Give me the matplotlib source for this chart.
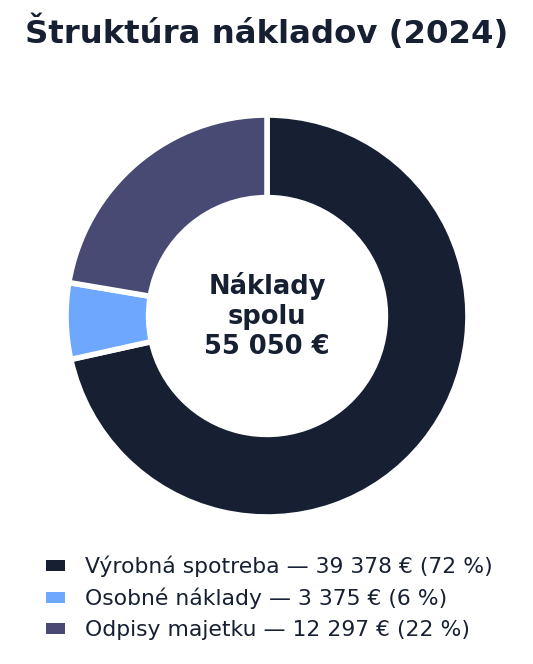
import matplotlib
matplotlib.use("Agg")
import matplotlib.pyplot as plt
from matplotlib.patches import Patch

categories = ["Výrobná spotreba", "Osobné náklady", "Odpisy majetku"]
values = [39378, 3375, 12297]
percents = [72, 6, 22]
colors = ["#172033", "#6ea8fe", "#484a73"]
title = "Štruktúra nákladov (2024)"
center_text = "Náklady\nspolu\n55 050 €"

def fmt(v):
    return f"{v:,}".replace(",", " ")

labels = [f"{c} — {fmt(v)} € ({p} %)" for c, v, p in zip(categories, values, percents)]

fig = plt.figure(figsize=(5.33, 6.64), dpi=100)
fig.patch.set_facecolor("white")
ax = fig.add_axes([0.1276, 0.2244, 0.7467, 0.5994])
wedges, _ = ax.pie(values, colors=colors, startangle=90, counterclock=False,
                   radius=1.01, wedgeprops=dict(width=0.415, edgecolor="white", linewidth=4))
ax.set_xlim(-1, 1)
ax.set_ylim(-1, 1)
ax.set_aspect("equal")
ax.text(0, 0, center_text, ha="center", va="center", fontsize=18.5, fontweight="bold",
        color="#172033", linespacing=1.2)

fig.text(0.5, 0.951, title, ha="center", va="center", fontsize=23.3, fontweight="bold", color="#172033")

handles = [Patch(facecolor=c, edgecolor="none") for c in colors]
leg = fig.legend(handles, labels, loc="upper center", bbox_to_anchor=(0.506, 0.193),
                 frameon=False, fontsize=15.75, handlelength=0.83, handleheight=0.38,
                 handletextpad=0.95, labelspacing=0.5, labelcolor="#172033")

fig.savefig("out.png", dpi=100)
